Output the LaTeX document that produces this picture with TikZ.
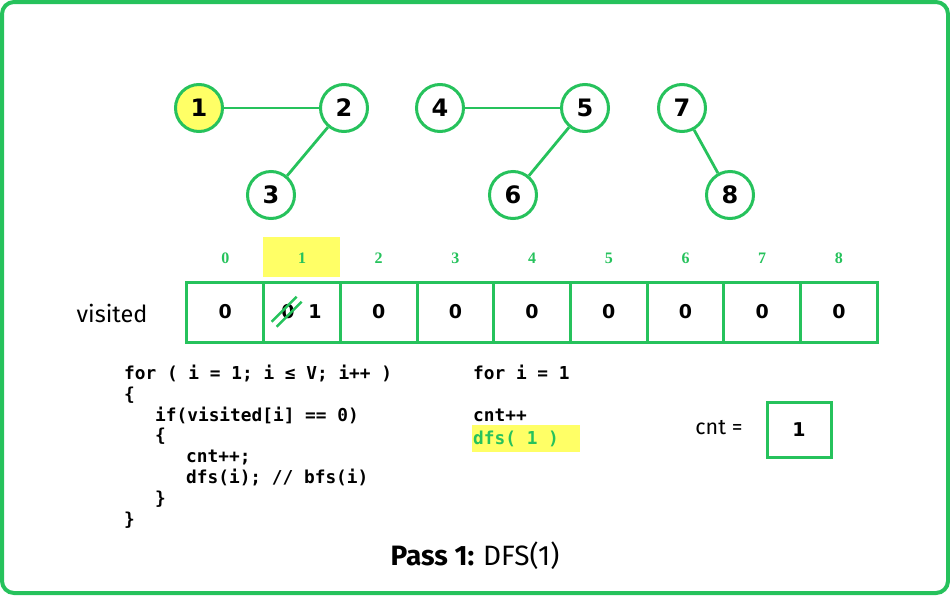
\documentclass[tikz,border=0pt]{standalone}
\usepackage{fontspec}
\setmainfont{DejaVu Sans}
\newfontfamily\firafont{Fira Sans}
\newfontfamily\monofont{DejaVu Sans Mono}
\newfontfamily\idxfont{Liberation Serif}
\definecolor{gfg}{RGB}{38,194,92}
\definecolor{hl}{RGB}{255,255,102}
\tikzset{
  vert/.style={circle,draw=gfg,line width=3pt,minimum size=47pt,inner sep=0pt,fill=white,font=\fontsize{24}{24}\selectfont\bfseries},
  edge/.style={draw=gfg,line width=2.8pt},
  cell/.style={rectangle,draw=gfg,line width=3pt,minimum width=76.7pt,minimum height=60pt,inner sep=0pt,font=\fontsize{19}{19}\selectfont\bfseries},
  idx/.style={text=gfg,font=\fontsize{16}{16}\selectfont\idxfont\bfseries},
  code/.style={anchor=base west,inner sep=0pt,font=\fontsize{17.8}{17.8}\selectfont\monofont\bfseries},
}
\begin{document}
\begin{tikzpicture}[x=1pt,y=-1pt]
\useasboundingbox (0,0) rectangle (950,595);
\draw[gfg,line width=4pt,rounded corners=12pt] (2,2) rectangle (948,593);

% graph
\node[vert,fill=hl] (n1) at (199,108) {1};
\node[vert] (n2) at (344,108) {2};
\node[vert] (n3) at (271,195) {3};
\node[vert] (n4) at (440,108) {4};
\node[vert] (n5) at (585,108) {5};
\node[vert] (n6) at (513,195) {6};
\node[vert] (n7) at (682,108) {7};
\node[vert] (n8) at (730,195) {8};
\draw[edge] (n1) -- (n2);
\draw[edge] (n2) -- (n3);
\draw[edge] (n4) -- (n5);
\draw[edge] (n5) -- (n6);
\draw[edge] (n7) -- (n8);

% index highlight
\fill[hl] (263,237) rectangle (340,277);

% array
\foreach \i in {0,...,8} {
  \node[idx] (i\i) at ({225.3+76.7*\i},258) {\i};
}
\node[cell] (c0) at (225.3,312) {0};
\node[cell] (c1) at (302.0,312) {};
\foreach \i/\v in {2/0,3/0,4/0,5/0,6/0,7/0,8/0} {
  \node[cell] (c\i) at ({225.3+76.7*\i},312) {\v};
}
\node[font=\fontsize{19}{19}\selectfont\bfseries] (old) at (288,312) {0};
\node[font=\fontsize{19}{19}\selectfont\bfseries] (new) at (315,312) {1};
\draw[gfg,line width=2.4pt] (271.7,321.7) -- (296.7,296.7);
\draw[gfg,line width=2.4pt] (276.7,326.7) -- (301.7,301.7);

\node[font=\fontsize{23.5}{23.5}\selectfont\firafont] (vis) at (112,313) {visited};

% code
\node[code] (l1) at (124,379.5) {for ( i = 1; i ≤ V; i++ )};
\node[code] (l2) at (124,400.3) {\{};
\node[code] (l3) at (155,421.1) {if(visited[i] == 0)};
\node[code] (l4) at (155,441.9) {\{};
\node[code] (l5) at (186,462.7) {cnt++;};
\node[code] (l6) at (186,483.5) {dfs(i); // bfs(i)};
\node[code] (l7) at (155,504.3) {\}};
\node[code] (l8) at (124,525.1) {\}};

% trace
\fill[hl] (472,425) rectangle (580,452);
\node[code] (t1) at (473,379.5) {for i = 1};
\node[code] (t2) at (473,421.1) {cnt++};
\node[code,text=gfg] (t3) at (473,444.5) {dfs( 1 )};

\node[font=\fontsize{21.5}{21.5}\selectfont\firafont] (cntl) at (719,428) {cnt =};
\node[rectangle,draw=gfg,line width=3pt,minimum width=64pt,minimum height=55pt,font=\fontsize{19}{19}\selectfont\bfseries] (cntbox) at (799,429.5) {1};

\node[font=\fontsize{28}{28}\selectfont\firafont] (pass) at (475,556) {\bfseries Pass 1: \mdseries DFS(1)};
\end{tikzpicture}
\end{document}
